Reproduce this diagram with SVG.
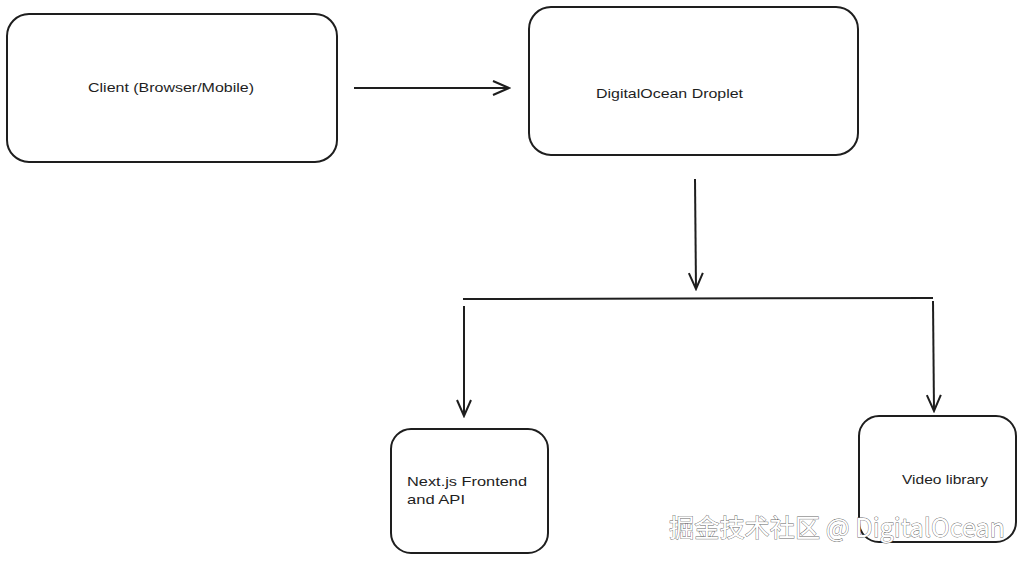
<svg xmlns="http://www.w3.org/2000/svg" width="1024" height="561" viewBox="0 0 1024 561">
<defs>
<style>
.box{fill:#fff;stroke:#1e1e1e;stroke-width:2}
.lbl{font-family:"Liberation Sans","DejaVu Sans",sans-serif;font-size:13px;fill:#1e1e1e}
.ln{fill:none;stroke:#1e1e1e;stroke-width:2}
.wm{font-family:"Noto Sans CJK SC","Noto Sans",sans-serif;font-size:25px;fill:#fff;stroke:#666;stroke-width:0.8;paint-order:stroke}
</style>
<marker id="ah" viewBox="0 0 20 20" refX="18" refY="10" markerWidth="20" markerHeight="20" markerUnits="userSpaceOnUse" orient="auto">
<path d="M2,3 L18,10 L2,17" fill="none" stroke="#1e1e1e" stroke-width="2"/>
</marker>
</defs>
<rect width="1024" height="561" fill="#fff"/>
<g id="client">
<rect class="box" x="7" y="14" width="330" height="148" rx="22"/>
<text class="lbl" x="88" y="92" textLength="166" lengthAdjust="spacingAndGlyphs">Client (Browser/Mobile)</text>
</g>
<g id="droplet">
<rect class="box" x="529" y="7" width="329" height="148" rx="22"/>
<text class="lbl" x="596" y="98" textLength="147" lengthAdjust="spacingAndGlyphs">DigitalOcean Droplet</text>
</g>
<g id="nextjs">
<rect class="box" x="391" y="429" width="157" height="124" rx="20"/>
<text class="lbl" x="407" y="486" textLength="120" lengthAdjust="spacingAndGlyphs">Next.js Frontend</text>
<text class="lbl" x="407" y="504" textLength="58" lengthAdjust="spacingAndGlyphs">and API</text>
</g>
<g id="video">
<rect class="box" x="859" y="416" width="157" height="126" rx="20"/>
<text class="lbl" x="902" y="484" textLength="86" lengthAdjust="spacingAndGlyphs">Video library</text>
</g>
<g id="connectors">
<line class="ln" x1="354" y1="88" x2="509" y2="88" marker-end="url(#ah)"/>
<line class="ln" x1="695" y1="179" x2="696" y2="289" marker-end="url(#ah)"/>
<line class="ln" x1="463" y1="299" x2="933" y2="298"/>
<line class="ln" x1="464" y1="306" x2="464" y2="416" marker-end="url(#ah)"/>
<line class="ln" x1="933" y1="301" x2="934" y2="411" marker-end="url(#ah)"/>
</g>
<text class="wm" x="669" y="537" textLength="336" lengthAdjust="spacingAndGlyphs">掘金技术社区 @ DigitalOcean</text>
</svg>
